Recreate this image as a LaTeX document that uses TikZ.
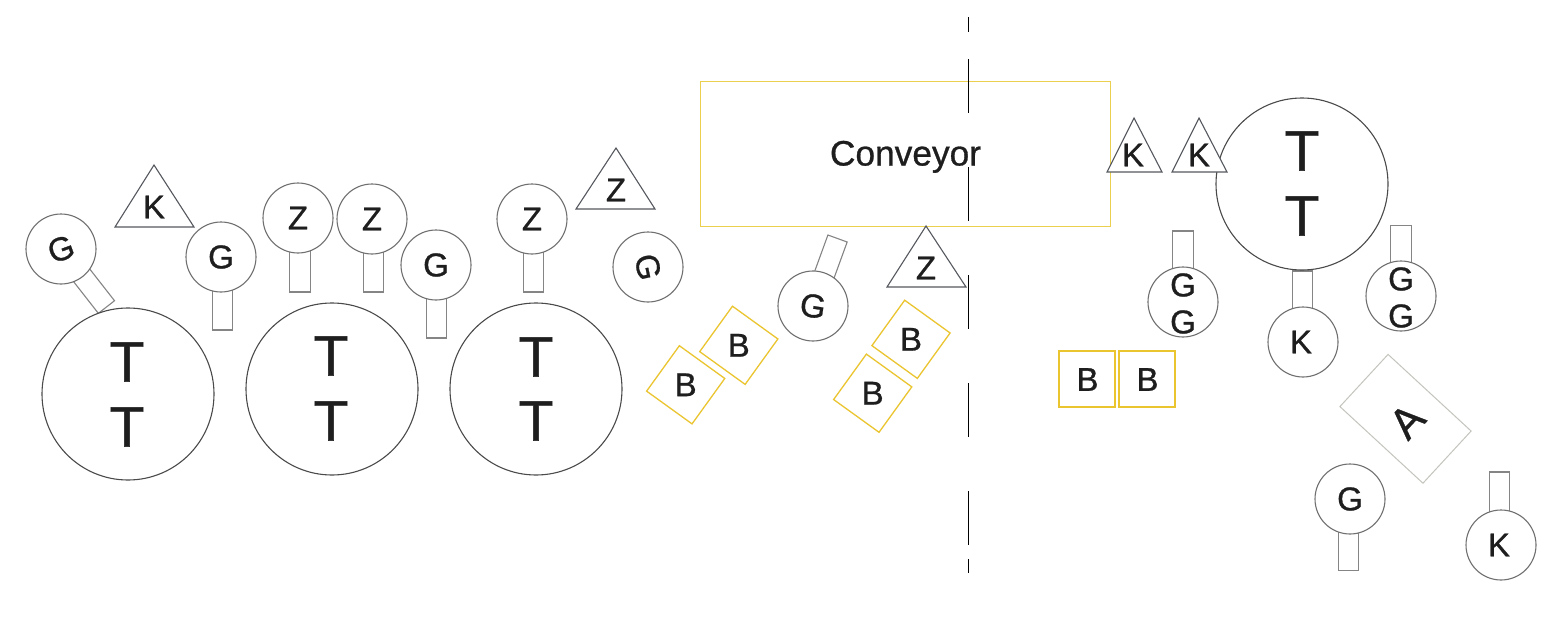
\documentclass[tikz,border=0pt]{standalone}
\usepackage{fontspec}
\setmainfont{Liberation Sans}[FakeBold=0.8]
\definecolor{ink}{HTML}{1E1E1E}
\definecolor{ringgray}{HTML}{707070}
\definecolor{bigring}{HTML}{4A4A4A}
\definecolor{stemgray}{HTML}{858585}
\definecolor{trigray}{HTML}{55585E}
\definecolor{ybox}{HTML}{EBC530}
\definecolor{yconv}{HTML}{EBD050}
\definecolor{abox}{HTML}{C4C4BE}
\tikzset{
  every node/.style={inner sep=0pt,outer sep=0pt},
  lab/.style={font=\fontsize{33}{33}\selectfont},
  biglab/.style={font=\fontsize{57}{57}\selectfont},
  ring/.style={circle,draw=ringgray,fill=white,line width=1.1pt,minimum size=70pt},
  bigcircle/.style={circle,draw=bigring,fill=white,line width=1.1pt,minimum size=172pt},
  stembar/.style={rectangle,draw=stemgray,fill=white,line width=1.1pt,minimum width=20.5pt},
  ybsq/.style={rectangle,draw=ybox,line width=1.3pt,minimum size=56pt},
  tri/.style={draw=trigray,line width=1.1pt,line join=miter,fill=white},
  axisline/.style={draw=black,line width=1pt},
}
\begin{document}
\begin{tikzpicture}[x=1pt,y=-1pt]
\color{ink}
\useasboundingbox[fill=white] (0,0) rectangle (1567,640);
% conveyor
\node[rectangle,draw=yconv,line width=1pt,minimum width=410pt,minimum height=145pt] (conv) at (905.5,153.5) {};
\node[font=\fontsize{35.3}{35.3}\selectfont,anchor=base] (convt) at (905.5,165.5) {Conveyor};
% stems
\node[stembar,minimum height=73.7pt,rotate=38] (s1) at (83.75,278) {};
\node[stembar,minimum height=73pt] (s2) at (222.5,293.5) {};
\node[stembar,minimum height=74pt] (s3) at (300,255) {};
\node[stembar,minimum height=73pt] (s4) at (373.5,255.5) {};
\node[stembar,minimum height=73pt] (s5) at (436.5,301.5) {};
\node[stembar,minimum height=73pt] (s6) at (533.5,255.5) {};
\node[stembar,minimum height=71.8pt,rotate=-20] (s7) at (825.25,272.25) {};
\node[stembar,minimum height=71pt] (s8) at (1183,266.5) {};
\node[stembar,minimum height=71pt] (s9) at (1302.5,306.5) {};
\node[stembar,minimum height=71pt] (s10) at (1401,261) {};
\node[stembar,minimum height=71pt] (s11) at (1348.5,535) {};
\node[stembar,minimum height=73pt] (s12) at (1499.5,508.5) {};
% big circles
\node[bigcircle] (t1) at (128,394) {};
\node[bigcircle] (t2) at (332,389) {};
\node[bigcircle] (t3) at (536,389) {};
\node[bigcircle] (t4) at (1302,184) {};
\foreach \n/\x/\y in {a/127/362,b/127/427,c/331/356,d/331/421,e/536/357,f/536/421,g/1302/151,h/1302/216}
  \node[biglab] (tt\n) at (\x,\y) {T};
% small circles
\node[ring] (c1) at (61,249) {};
\node[lab,rotate=20] (c1t) at (61,249) {G};
\node[ring] (c2) at (221,257) {};
\node[lab] (c2t) at (221,257) {G};
\node[ring] (c3) at (298,218) {};
\node[lab] (c3t) at (298,218) {Z};
\node[ring] (c4) at (372,219) {};
\node[lab] (c4t) at (372,219) {Z};
\node[ring] (c5) at (436,265) {};
\node[lab] (c5t) at (436,265) {G};
\node[ring] (c6) at (532,219) {};
\node[lab] (c6t) at (532,219) {Z};
\node[ring] (c7) at (648,267) {};
\node[lab,rotate=-78] (c7t) at (648,267) {G};
\node[ring] (c8) at (813,306) {};
\node[lab,rotate=-9] (c8t) at (813,306) {G};
\node[ring] (c9) at (1183,302) {};
\node[lab] (c9a) at (1183,285) {G};
\node[lab] (c9b) at (1183,322) {G};
\node[ring] (c10) at (1303,342) {};
\node[lab] (c10t) at (1301,342) {K};
\node[ring] (c11) at (1401,296) {};
\node[lab] (c11a) at (1401,279) {G};
\node[lab] (c11b) at (1401,316) {G};
\node[ring] (c12) at (1350,499) {};
\node[lab] (c12t) at (1350,499) {G};
\node[ring] (c13) at (1501,545) {};
\node[lab] (c13t) at (1499,545) {K};
% triangles
\draw[tri] (154,165) -- (194,227) -- (115,227) -- cycle;
\node[lab] (k1) at (154,207) {K};
\draw[tri] (616,148) -- (655,209) -- (576,209) -- cycle;
\node[lab] (z2) at (616,190) {Z};
\draw[tri] (926,226) -- (966,287) -- (887,287) -- cycle;
\node[lab] (z3) at (926,268) {Z};
\draw[tri] (1134,118) -- (1162,172) -- (1107,172) -- cycle;
\node[lab] (k2) at (1133,155) {K};
\draw[tri] (1199,118) -- (1227,172) -- (1172,172) -- cycle;
\node[lab] (k3) at (1199,155) {K};
% yellow boxes
\foreach \n/\x/\y in {1/685.7/384.8,2/738.8/345.3,3/911/339.3,4/872.7/393.2}{
  \node[ybsq,rotate=-35.8] (by\n) at (\x,\y) {};
  \node[lab] (bl\n) at (\x,\y) {B};
}
\draw[draw=ybox,line width=1.7pt] (1059.2,351.2) rectangle (1115.2,407.2);
\draw[draw=ybox,line width=1.7pt] (1119.2,351.2) rectangle (1175.2,407.2);
\node[lab] (bl5) at (1087.5,379.5) {B};
\node[lab] (bl6) at (1147.5,379.5) {B};
% A
\node[rectangle,draw=abox,line width=1pt,minimum width=113pt,minimum height=71pt,rotate=-42.7] (abx) at (1405.5,418.8) {};
\node[font=\fontsize{43}{43}\selectfont,rotate=47] (alab) at (1407,421) {A};
% dash-dot axis
\foreach \a/\b in {17/32,59/113,167/221,275/329,383/437,491/545,559/573}
  \draw[axisline] (968.5,\a) -- (968.5,\b);
\end{tikzpicture}
\end{document}
